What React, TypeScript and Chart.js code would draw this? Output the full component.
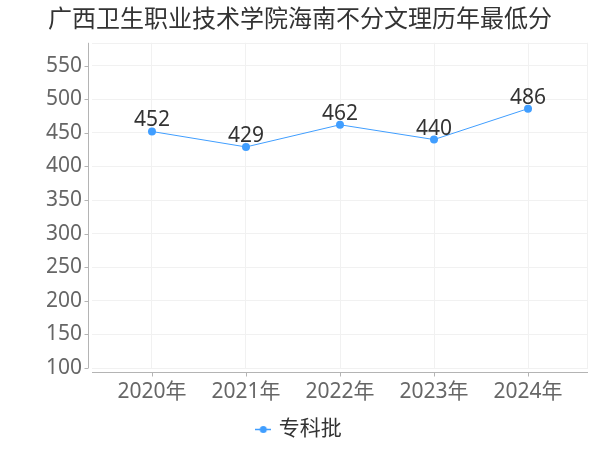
import React, { useEffect, useRef } from "react";
import { Chart, registerables } from "chart.js";

Chart.register(...registerables);

const TITLE = "广西卫生职业技术学院海南不分文理历年最低分";
const years = ["2020年", "2021年", "2022年", "2023年", "2024年"];
const seriesName = "专科批";
const scores = [452, 429, 462, 440, 486];
const yTickValues = [100, 150, 200, 250, 300, 350, 400, 450, 500, 550];

const Y_MIN = 100;
const Y_MAX = 584;
const X_PAD = 0.638;

const FONT = "'Noto Sans', 'Noto Sans CJK SC', sans-serif";
const LINE_COLOR = "#409EFF";
const GRID_COLOR = "#f1f1f1";
const AXIS_COLOR = "#b4b4b4";

function makeLegendIcon(): HTMLCanvasElement {
  const c = document.createElement("canvas");
  c.width = 16;
  c.height = 9;
  const g = c.getContext("2d")!;
  g.strokeStyle = LINE_COLOR;
  g.lineWidth = 1.5;
  g.beginPath();
  g.moveTo(0, 4.5);
  g.lineTo(16, 4.5);
  g.stroke();
  g.fillStyle = LINE_COLOR;
  g.beginPath();
  g.arc(8, 4.5, 3.5, 0, Math.PI * 2);
  g.fill();
  return c;
}

const axesPlugin = {
  id: "offsetAxes",
  beforeDatasetsDraw(chart: any) {
    const { ctx, chartArea } = chart;
    const { left, right, top, bottom } = chartArea;
    const xs = chart.scales.x;
    const ys = chart.scales.y;
    ctx.save();
    ctx.lineWidth = 1;
    ctx.strokeStyle = GRID_COLOR;
    ctx.beginPath();
    ctx.moveTo(left, Math.round(top) + 0.5);
    ctx.lineTo(right, Math.round(top) + 0.5);
    ctx.moveTo(Math.round(right) - 0.5, top);
    ctx.lineTo(Math.round(right) - 0.5, bottom);
    ctx.stroke();

    ctx.strokeStyle = AXIS_COLOR;
    ctx.beginPath();
    const ax = Math.round(left - 3) - 0.5;
    ctx.moveTo(ax, top);
    ctx.lineTo(ax, bottom);
    ys.ticks.forEach((t: any) => {
      const py = Math.round(ys.getPixelForValue(t.value)) + 0.5;
      ctx.moveTo(ax - 4, py);
      ctx.lineTo(ax, py);
    });
    const ay = Math.round(bottom + 4) + 0.5;
    ctx.moveTo(left, ay);
    ctx.lineTo(right, ay);
    xs.ticks.forEach((t: any) => {
      const px = Math.round(xs.getPixelForValue(t.value)) + 0.5;
      ctx.moveTo(px, ay);
      ctx.lineTo(px, ay + 4);
    });
    ctx.stroke();
    ctx.restore();
  },
};

const labelPlugin = {
  id: "valueLabels",
  afterDatasetsDraw(chart: any) {
    const { ctx } = chart;
    const meta = chart.getDatasetMeta(0);
    ctx.save();
    ctx.font = `21px ${FONT}`;
    ctx.fillStyle = "#333333";
    ctx.textAlign = "center";
    ctx.textBaseline = "middle";
    meta.data.forEach((el: any, i: number) => {
      ctx.fillText(String(scores[i]), el.x, el.y - 11);
    });
    ctx.restore();
  },
};

export default function App() {
  const ref = useRef<HTMLCanvasElement>(null);

  useEffect(() => {
    if (!ref.current) return;
    const icon = makeLegendIcon();
    const chart = new Chart(ref.current, {
      type: "line",
      data: {
        datasets: [
          {
            label: seriesName,
            data: scores.map((v, i) => ({ x: i, y: v })),
            borderColor: LINE_COLOR,
            backgroundColor: LINE_COLOR,
            borderWidth: 1,
            pointRadius: 4,
            pointBackgroundColor: LINE_COLOR,
            pointBorderWidth: 0,
            tension: 0,
            fill: false,
          },
        ],
      },
      options: {
        animation: false,
        responsive: false,
        devicePixelRatio: 1,
        layout: { padding: 0 },
        plugins: {
          title: {
            display: true,
            text: TITLE,
            color: "#333333",
            font: { family: FONT, size: 24, weight: "normal" },
            padding: { top: 6, bottom: 8 },
          },
          legend: {
            display: true,
            position: "bottom",
            labels: {
              usePointStyle: true,
              pointStyle: icon as any,
              boxWidth: 10,
              padding: 10,
              color: "#333333",
              font: { family: FONT, size: 21 },
            },
          },
          tooltip: { enabled: false },
        },
        scales: {
          x: {
            type: "linear",
            min: -X_PAD,
            max: years.length - 1 + X_PAD,
            afterBuildTicks: (s: any) => {
              s.ticks = years.map((_, i) => ({ value: i }));
            },
            afterFit: (s: any) => {
              s.height = 41;
            },
            ticks: {
              padding: 11,
              color: "#666666",
              font: { family: FONT, size: 21 },
              callback: (v: any) => years[Math.round(Number(v))] ?? "",
              maxRotation: 0,
              autoSkip: false,
            },
            grid: { color: GRID_COLOR, drawTicks: false },
            border: { display: false },
          },
          y: {
            type: "linear",
            min: Y_MIN,
            max: Y_MAX,
            afterBuildTicks: (s: any) => {
              s.ticks = yTickValues.map((v) => ({ value: v }));
            },
            afterFit: (s: any) => {
              s.width = 92;
            },
            ticks: {
              padding: 10,
              color: "#666666",
              font: { family: FONT, size: 21 },
              autoSkip: false,
            },
            grid: { color: GRID_COLOR, drawTicks: false },
            border: { display: false },
          },
          yRightSpacer: {
            type: "linear",
            position: "right",
            display: true,
            afterFit: (s: any) => {
              s.width = 12;
            },
            ticks: { display: false },
            grid: { display: false, drawTicks: false },
            border: { display: false },
          },
        },
      },
      plugins: [axesPlugin, labelPlugin],
    });
    return () => chart.destroy();
  }, []);

  return (
    <div style={{ position: "absolute", left: 0, top: 0, width: 600, height: 450, background: "#fff" }}>
      <canvas ref={ref} width={600} height={450} style={{ display: "block" }} />
    </div>
  );
}
